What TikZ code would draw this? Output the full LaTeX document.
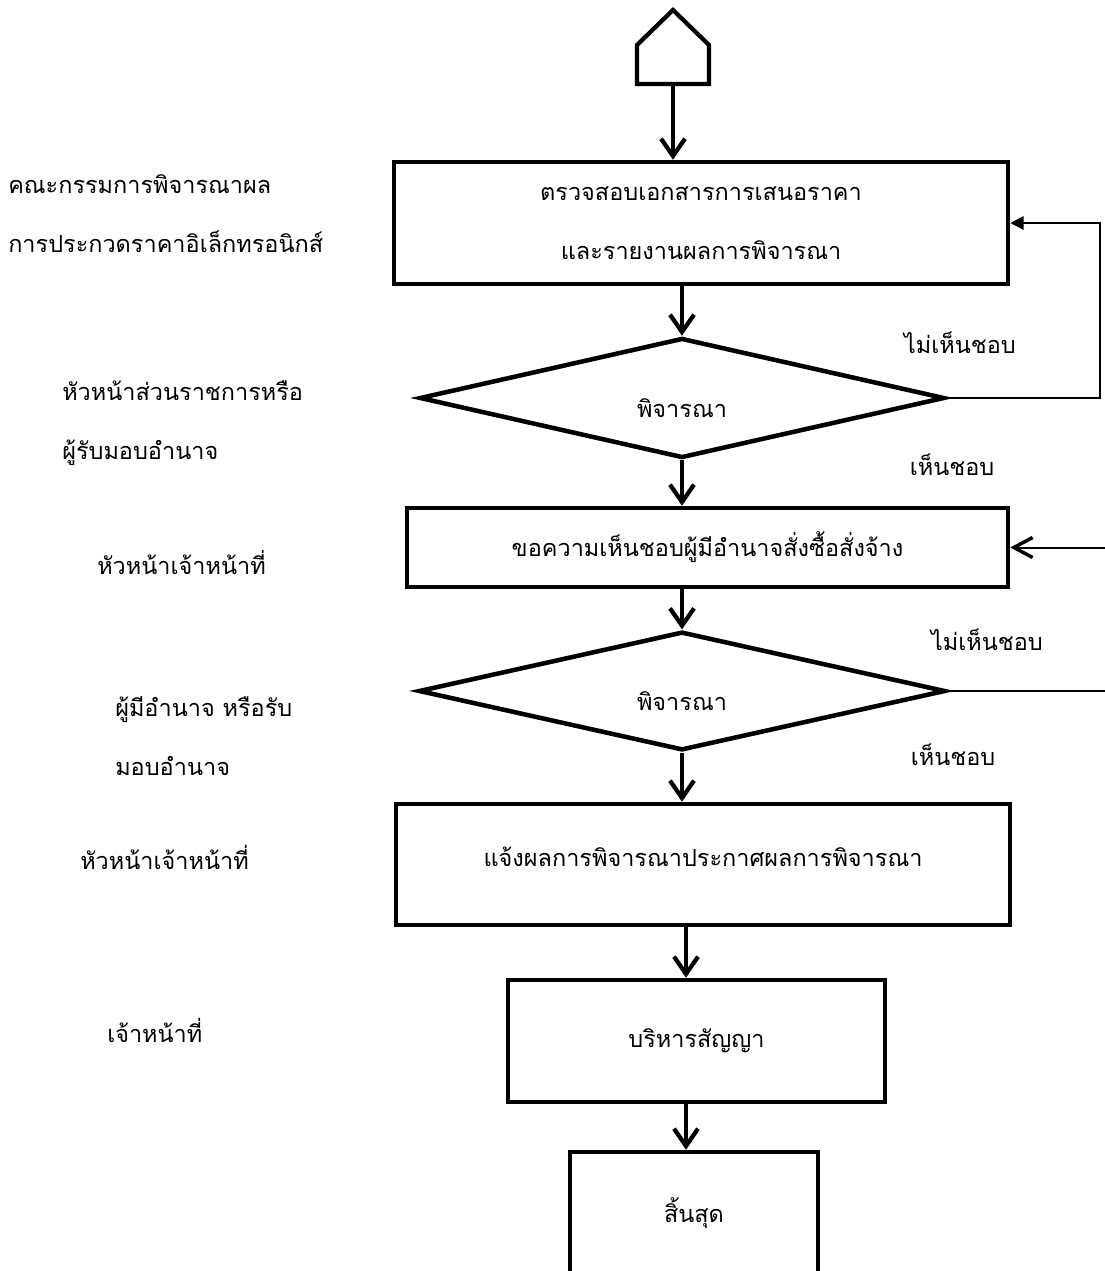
\documentclass[tikz,border=0pt]{standalone}
\usepackage{fontspec}
\setmainfont{Loma}[Script=Thai]
\usepackage{tikz}
\usetikzlibrary{shapes.geometric}
\usetikzlibrary{arrows.meta}

\tikzset{
	every node/.style={font=\fontsize{17.6}{44}\selectfont},
	box/.style={draw,line width=3.4pt,align=center,inner sep=0pt},
	decide/.style={draw,diamond,aspect=4.4,line width=3.4pt,inner sep=0pt,text height=30pt},
	flow/.style={line width=3.2pt,-{Straight Barb[length=13pt,width=18pt]}},
	back/.style={line width=1.5pt},
	who/.style={anchor=west,align=left,inner sep=0pt}
}

\begin{document}
\begin{tikzpicture}[x=0.75pt,y=-0.75pt]
	\fill[white] (0,0) rectangle (1104,1271);
	\useasboundingbox (0,0) rectangle (1104,1271);
	\draw[line width=3.2pt] (637,84) -- (637,45) -- (673,10) -- (709,45) -- (709,84) -- cycle;
	\coordinate (start) at (673,84);
	\node[box,minimum width=460.5pt,minimum height=91.5pt] (check) at (701,223) {ตรวจสอบเอกสารการเสนอราคา\\และรายงานผลการพิจารณา};
	\node[decide,minimum width=393.75pt,minimum height=90pt] (review1) at (682,398) {พิจารณา};
	\node[box,minimum width=450.75pt,minimum height=59.25pt] (consent) at (707.5,547.5) {ขอความเห็นชอบผู้มีอำนาจสั่งซื้อสั่งจ้าง};
	\node[decide,minimum width=395pt,minimum height=89pt] (review2) at (682,691) {พิจารณา};
	\node[box,minimum width=460.5pt,minimum height=90.75pt,text depth=12pt] (notify) at (703,864.5) {แจ้งผลการพิจารณาประกาศผลการพิจารณา};
	\node[box,minimum width=282.75pt,minimum height=91.5pt] (manage) at (696.5,1041) {บริหารสัญญา};
	\node[box,minimum width=186pt,minimum height=91.5pt] (finish) at (694,1213) {สิ้นสุด};
	\coordinate (spine) at (686,0);
	\coordinate (loopa) at (1100,0);
	\coordinate (loopb) at (1115,0);
	\draw[flow] (start) -- (start |- check.north);
	\draw[flow] (review1.north |- check.south) -- (review1.north);
	\draw[flow] (review1.south) -- (review1.south |- consent.north);
	\draw[flow] (review2.north |- consent.south) -- (review2.north);
	\draw[flow] (review2.south) -- (review2.south |- notify.north);
	\draw[flow] (notify.south -| spine) -- (manage.north -| spine);
	\draw[flow] (manage.south -| spine) -- (finish.north -| spine);
	\draw[back,-{Triangle[length=10pt,width=10pt]}] (review1.east) -- (review1.east -| loopa) |- (check.east);
	\draw[back,-{Straight Barb[length=14pt,width=15pt,line width=2.6pt]}] (review2.east) -- (review2.east -| loopb) |- (consent.east);
	\node (no1) at (960,343) {ไม่เห็นชอบ};
	\node (yes1) at (952,465) {เห็นชอบ};
	\node (no2) at (987,640) {ไม่เห็นชอบ};
	\node (yes2) at (953,755) {เห็นชอบ};
	\node[who] (committee) at (8,213.5) {คณะกรรมการพิจารณาผล\\การประกวดราคาอิเล็กทรอนิกส์};
	\node[who] (head) at (62,423.5) {หัวหน้าส่วนราชการหรือ\\ผู้รับมอบอำนาจ};
	\node[who] (chief1) at (97,562) {หัวหน้าเจ้าหน้าที่};
	\node[who] (authority) at (115,736) {ผู้มีอำนาจ หรือรับ\\มอบอำนาจ};
	\node[who] (chief2) at (80,857) {หัวหน้าเจ้าหน้าที่};
	\node[who] (officer) at (107,1030) {เจ้าหน้าที่};
\end{tikzpicture}
\end{document}
